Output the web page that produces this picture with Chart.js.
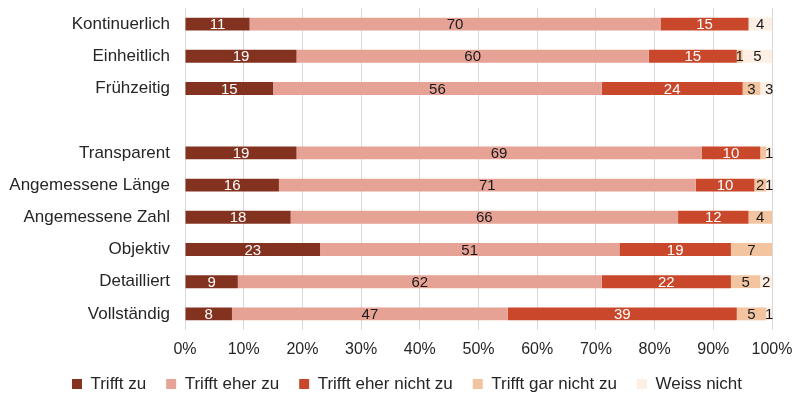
<!DOCTYPE html>
<html>
<head>
<meta charset="utf-8">
<script src="https://cdn.jsdelivr.net/npm/chart.js@4/dist/chart.umd.min.js"></script>
<style>
html,body{margin:0;padding:0;background:#fff}
#wrap{width:795px;height:394px}
</style>
</head>
<body>
<div id="wrap"><canvas id="chart"></canvas></div>
<script>
let categories=["Kontinuerlich","Einheitlich","Frühzeitig","","Transparent","Angemessene Länge","Angemessene Zahl","Objektiv","Detailliert","Vollständig"]

let trifftZu=[11,19,15,null,19,16,18,23,9,8]
let eherZu=[70,60,56,null,69,71,66,51,62,47]
let eherNicht=[15,15,24,null,10,10,12,19,22,39]
let garNicht=[0,1,3,null,1,2,4,7,5,5]
let weissNicht=[4,5,3,null,1,1,0,0,2,1]

let seriesNames=["Trifft zu","Trifft eher zu","Trifft eher nicht zu","Trifft gar nicht zu","Weiss nicht"]
let xTicks=[0,10,20,30,40,50,60,70,80,90,100]

// labels not shown in the original (dataset, row)
let hiddenLabels=[[3,4]]

let colors=["#833220","#e6a295","#c9472b","#f2c4a0","#fdefe4"]
let labelColors=["#ffffff","#1a1a1a","#ffffff","#1a1a1a","#1a1a1a"]

let allSeries=[trifftZu,eherZu,eherNicht,garNicht,weissNicht]

let barLabels={
id:"barLabels",
afterDatasetsDraw(chart){
let ctx=chart.ctx
ctx.save()
ctx.font="15px 'Liberation Sans', Arial, sans-serif"
ctx.textAlign="center"
ctx.textBaseline="middle"
chart.data.datasets.forEach((ds,di)=>{
chart.getDatasetMeta(di).data.forEach((bar,i)=>{
let v=ds.data[i]
if(!v) return
if(hiddenLabels.some(h=>h[0]===di&&h[1]===i)) return
ctx.fillStyle=labelColors[di]
ctx.fillText(v,(bar.x+bar.base)/2,bar.y+1)
})
})
ctx.restore()
}
}

// fixed legend height, and legend nudged right like in the original
let legendFix={
id:"legendFix",
beforeInit(chart){
let fit=chart.legend.fit
chart.legend.fit=function(){
fit.bind(chart.legend)()
this.height=38.5
}
},
afterLayout(chart){
chart.legend.left+=21
chart.legend.right+=21
}
}

Chart.defaults.font.family="'Liberation Sans', Arial, sans-serif"
Chart.defaults.font.size=16
Chart.defaults.color="#262626"

new Chart(document.getElementById("chart"),{
type:"bar",
data:{
labels:categories,
datasets:allSeries.map((d,i)=>({
label:seriesNames[i],
data:d,
backgroundColor:colors[i],
borderWidth:0,
categoryPercentage:1,
barPercentage:0.4
}))
},
options:{
indexAxis:"y",
responsive:true,
maintainAspectRatio:false,
animation:false,
layout:{padding:{left:0,right:23,top:8,bottom:0}},
scales:{
x:{
stacked:true,
min:0,
max:100,
afterBuildTicks(scale){scale.ticks=xTicks.map(v=>({value:v}))},
afterFit(scale){
scale.height=25.5
scale.paddingLeft=0
scale.paddingRight=0
},
ticks:{callback:v=>v+"%",padding:10,autoSkip:false,maxRotation:0},
grid:{color:"#d9d9d9",drawTicks:false},
border:{display:false}
},
y:{
stacked:true,
afterFit(scale){
scale.width=185
scale.paddingTop=0
scale.paddingBottom=0
},
ticks:{padding:7,autoSkip:false,font:{size:17}},
grid:{display:false},
border:{display:false}
}
},
plugins:{
legend:{
position:"bottom",
labels:{boxWidth:10,boxHeight:10,padding:20,font:{size:17}}
},
tooltip:{enabled:false}
}
},
plugins:[barLabels,legendFix]
})
</script>
</body>
</html>
